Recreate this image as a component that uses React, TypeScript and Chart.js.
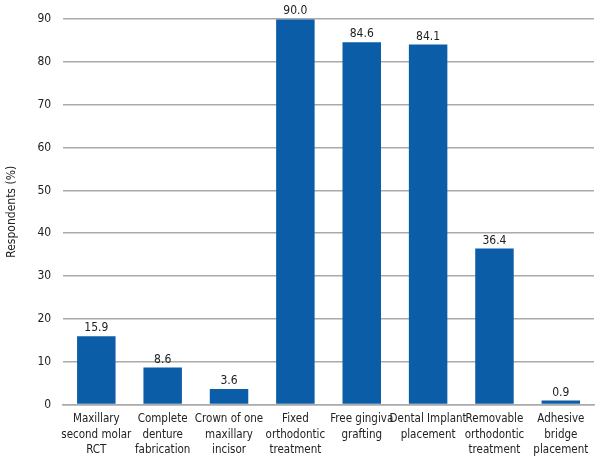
import React, { useEffect, useRef } from "react";
import { Chart, registerables } from "chart.js";

Chart.register(...registerables);

const categories: string[][] = [
  ["Maxillary", "second molar", "RCT"],
  ["Complete", "denture", "fabrication"],
  ["Crown of one", "maxillary", "incisor"],
  ["Fixed", "orthodontic", "treatment"],
  ["Free gingiva", "grafting"],
  ["Dental Implant", "placement"],
  ["Removable", "orthodontic", "treatment"],
  ["Adhesive", "bridge", "placement"],
];
const values: number[] = [15.9, 8.6, 3.6, 90.0, 84.6, 84.1, 36.4, 0.9];
const yTicks: number[] = [0, 10, 20, 30, 40, 50, 60, 70, 80, 90];

const FONT = "'DejaVu Sans', sans-serif";
const STRETCH = "condensed";
const BLUE = "#0b5da8";

const valueLabels = {
  id: "valueLabels",
  afterDatasetsDraw(chart: any) {
    const ctx = chart.ctx;
    const meta = chart.getDatasetMeta(0);
    ctx.save();
    ctx.font = `${STRETCH} 12px ${FONT}`;
    ctx.fillStyle = "#222";
    ctx.textAlign = "center";
    ctx.textBaseline = "bottom";
    meta.data.forEach((bar: any, i: number) => {
      ctx.fillText(values[i].toFixed(1), bar.x, bar.y - 2);
    });
    ctx.restore();
  },
};

export default function App() {
  const ref = useRef<HTMLCanvasElement>(null);
  useEffect(() => {
    if (!ref.current) return;
    const chart = new Chart(ref.current, {
      type: "bar",
      data: {
        labels: categories,
        datasets: [
          {
            data: values,
            backgroundColor: BLUE,
            borderWidth: 0,
            barPercentage: 0.58,
            categoryPercentage: 1,
          },
        ],
      },
      options: {
        animation: false,
        responsive: false,
        maintainAspectRatio: false,
        layout: { padding: { top: 18, right: 6, left: 5, bottom: -5 } },
        plugins: { legend: { display: false }, tooltip: { enabled: false } },
        scales: {
          x: {
            grid: { display: false, drawTicks: false },
            border: { display: true, color: "#aaaaaa", width: 1.5 },
            ticks: {
              color: "#222",
              font: { family: FONT, size: 11.5, weight: STRETCH as any, lineHeight: 1.35 },
              maxRotation: 0,
              autoSkip: false,
              padding: 7,
            },
          },
          y: {
            min: 0,
            max: 90,
            afterBuildTicks: (axis: any) => {
              axis.ticks = yTicks.map((v) => ({ value: v }));
            },
            grid: { color: "#aaaaaa", lineWidth: 1.5, drawTicks: false },
            border: { display: false },
            ticks: {
              color: "#222",
              font: { family: FONT, size: 12, weight: STRETCH as any },
              padding: 12,
            },
            title: {
              display: true,
              text: "Respondents (%)",
              color: "#222",
              font: { family: FONT, size: 12, weight: STRETCH as any },
              padding: { top: 0, bottom: 6 },
            },
          },
        },
      },
      plugins: [valueLabels],
    });
    return () => chart.destroy();
  }, []);
  return (
    <div style={{ position: "absolute", left: 0, top: 0, width: 600, height: 460, background: "#fff" }}>
      <canvas ref={ref} width={600} height={460} style={{ width: 600, height: 460 }} />
    </div>
  );
}
